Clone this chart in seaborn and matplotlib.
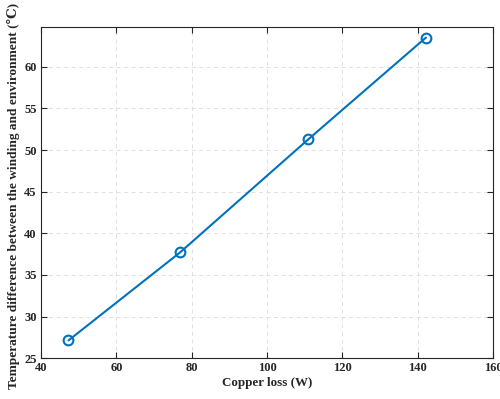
import matplotlib
matplotlib.use("Agg")
import matplotlib.pyplot as plt
import seaborn as sns
import pandas as pd

copper_loss = [47.3, 76.9, 111.0, 142.2]
temp_diff = [27.15, 37.7, 51.3, 63.5]
x_ticks = [40, 60, 80, 100, 120, 140, 160]
y_ticks = [25, 30, 35, 40, 45, 50, 55, 60]

sns.set_style("white")
plt.rcParams['font.family'] = ['Liberation Serif', 'DejaVu Serif']
plt.rcParams['font.weight'] = 'bold'

df = pd.DataFrame({"x": copper_loss, "y": temp_diff})

fig = plt.figure(figsize=(5.0, 3.99), dpi=100)
ax = fig.add_axes([0.082, 0.102, 0.904, 0.831])
sns.lineplot(data=df, x="x", y="y", ax=ax, color="#0072BD", linewidth=1.5,
             marker="o", markersize=7, markerfacecolor="none",
             markeredgecolor="#0072BD", markeredgewidth=1.5)
ax.set_xlim(40, 160)
ax.set_ylim(25, 64.8)
ax.set_xticks(x_ticks)
ax.set_yticks(y_ticks)
ax.set_xticklabels([str(t) for t in x_ticks], fontsize=9, fontweight='bold')
ax.set_yticklabels([str(t) for t in y_ticks], fontsize=9, fontweight='bold')
ax.grid(True, linestyle=(0, (5, 4)), color='#dcdcdc', linewidth=0.6)
ax.tick_params(direction='in', length=4, width=0.8, top=True, right=True,
               bottom=True, left=True, colors='#262626', pad=3)
for s in ax.spines.values():
    s.set_color('#262626')
    s.set_linewidth(0.8)
    s.set_visible(True)
ax.set_xlabel("Copper loss (W)", fontsize=9.4, fontweight='bold', labelpad=2)
ax.set_ylabel("Temperature difference between the winding and environment (\u2103)",
              fontsize=9.6, fontweight='bold')
ax.yaxis.set_label_coords(-0.047, 0.49)
fig.savefig("out.png", dpi=100)
